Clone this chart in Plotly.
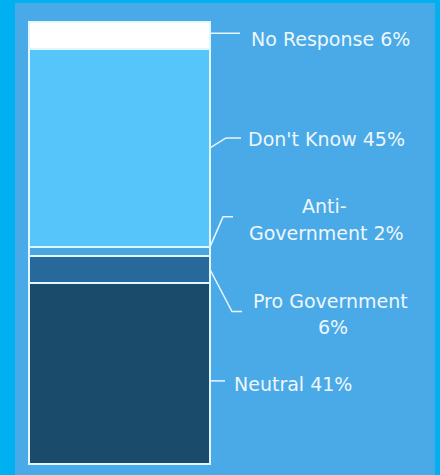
import plotly.graph_objects as go

# ---- data ----
categories = ["Neutral", "Pro Government", "Anti-Government", "Don't Know", "No Response"]
values = [41, 6, 2, 45, 6]
labels = ["Neutral 41%", "Pro Government<br>6%", "Anti-<br>Government 2%", "Don't Know 45%", "No Response 6%"]
colors = ["#1b4b6b", "#26699a", "#4aa6e0", "#55c5fa", "#ffffff"]

# ---- geometry helpers (figure is 440x475 with zero margins) ----
W, H = 440, 475
BAR_L, BAR_R = 29, 210
BAR_T, BAR_B = 22, 464
xu = (BAR_R - BAR_L)  # px per x unit (bar width = 1)
yu = (BAR_B - BAR_T) / 100.0  # px per percent

def px_x(px):
    return -0.5 + (px - BAR_L) / xu

def px_y(py):
    return (BAR_B - py) / yu

fig = go.Figure()
bases = []
acc = 0
for v in values:
    bases.append(acc)
    acc += v

for cat, v, c in zip(categories, values, colors):
    fig.add_trace(go.Bar(
        x=[0], y=[v], name=cat, width=1,
        marker=dict(color=c, line=dict(color="#e2f6ff", width=2)),
        hoverinfo="name+y",
    ))

mids = [b + v / 2 for b, v in zip(bases, values)]
dx = 1.0 / xu  # one pixel in x units
dy = 1.0 / yu  # one pixel in y units
x0 = 0.5
line_style = dict(color="#eaf6fd", width=1.5)

# leader line paths (offsets in pixels from segment midpoint on bar edge)
leaders = [
    [(0, -7.5), (15, -7.5)],
    [(0, 0), (22, -42), (32, -42)],
    [(0, 5), (13, 35), (23, 35)],
    [(0, 0), (16, 10), (31, 10)],
    [(0, 2), (30, 2)],
]
for m, pts in zip(mids, leaders):
    path = ""
    for i, (ox, oy) in enumerate(pts):
        X = x0 + ox * dx
        Y = m + oy * dy
        path += ("M" if i == 0 else "L") + f"{X},{Y} "
    fig.add_shape(type="path", path=path, xref="x", yref="y", line=line_style)

# label placement (pixel positions), one entry per text line
label_pos = [
    [(232, 384, "left")],
    [(330, 301, "center"), (333, 327, "center")],
    [(324, 206, "center"), (326, 233, "center")],
    [(246, 139, "left")],
    [(249, 39, "left")],
]
for lab, pos in zip(labels, label_pos):
    lines = lab.split("<br>")
    for text, (px, py, anc) in zip(lines, pos):
        fig.add_annotation(
            x=px_x(px), y=px_y(py), xref="x", yref="y",
            text=text, showarrow=False, xanchor=anc, yanchor="middle",
            font=dict(family="DejaVu Sans", size=19, color="#eef7fd"),
        )

# panel background
fig.add_shape(type="rect", xref="paper", yref="paper",
              x0=15 / W, x1=435 / W, y0=0, y1=1 - 3 / H,
              fillcolor="#4aaae8", line=dict(width=0), layer="below")

fig.update_layout(
    width=W, height=H,
    margin=dict(l=0, r=0, t=0, b=0),
    paper_bgcolor="#00b0f0",
    plot_bgcolor="rgba(0,0,0,0)",
    barmode="stack",
    showlegend=False,
    xaxis=dict(range=[px_x(0), px_x(W)], visible=False, fixedrange=True),
    yaxis=dict(range=[px_y(H), px_y(0)], visible=False, fixedrange=True),
)

fig.write_html(
    "out.html",
    config={"displayModeBar": False},
    post_script="document.body.style.margin='0';document.body.style.overflow='hidden';",
)
